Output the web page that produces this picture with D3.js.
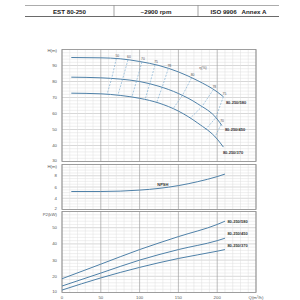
<!DOCTYPE html>
<html lang="en">
<head>
<meta charset="UTF-8">
<title>EST 80-250</title>
<script src="https://d3js.org/d3.v7.min.js"></script>
<style>
  body { margin: 0; background: #fff; }
  text { font-family: "Liberation Sans", Arial, sans-serif; }
</style>
</head>
<body>
<div id="my_dataviz"></div>
<script>

// header texts
var headerCells = ["EST 80-250", "~2900 rpm", "ISO 9906   Annex A"];

// tick labels
var qTicks = [0, 50, 100, 150, 200];
var hTicks = [30, 40, 50, 60, 70, 80, 90];
var npshTicks = [2, 4, 6, 8];
var p2Ticks = [10, 20, 30, 40, 50];

var models = ["80-250/580", "80-250/450", "80-250/370"];

// head curves, Q (m3/h) -> H (m)
var h580Q = [12, 50, 75, 100, 125, 150, 175, 200, 208];
var h580  = [95, 94.8, 94.2, 92.5, 90, 86, 80.5, 73.5, 70.5];
var h450Q = [12, 50, 75, 100, 125, 150, 175, 200, 206];
var h450  = [82.7, 82.3, 81.5, 80, 77, 72.5, 66, 56.5, 52.5];
var h370Q = [12, 50, 75, 100, 125, 150, 175, 200, 208];
var h370  = [72.7, 72.3, 71.3, 69.5, 66.5, 61.5, 54, 44, 39];

// efficiency lines: label and Q on each head curve (null = not crossing)
var effLabels = [50, 60, 70, 75, 78, 80, 78, 75, 70];
var eff580Q = [70, 85, 103, 120, 137, 167, 195, 208, null];
var eff450Q = [64, 78, 96, 113, 129, 155, 180, 198, 205];
var eff370Q = [58, 72, 90, 107, 122, 143, 165, 185, 197];

// NPSH
var npshQ = [12, 50, 100, 125, 150, 175, 200, 210];
var npsh  = [5.2, 5.2, 5.45, 5.75, 6.25, 6.95, 7.85, 8.3];

// power curves
var p2Q    = [0, 50, 100, 150, 200, 210];
var p2_580 = [18.5, 27.5, 36.5, 44.5, 52, 54];
var p2_450 = [14, 22, 30, 36.5, 42, 43.5];
var p2_370 = [11.5, 19, 25.5, 31, 35.5, 36.5];

var W = 300, H = 300;
var left = 62, right = 256;

var svg = d3.select("#my_dataviz")
  .append("svg")
    .attr("width", W)
    .attr("height", H);

// ---- header table ----
var hx = [25, 114, 198, 279];
var head = svg.append("g");
head.append("line").attr("x1", 25).attr("x2", 279).attr("y1", 5.5).attr("y2", 5.5)
  .attr("stroke", "#888").attr("stroke-width", 0.7);
head.append("line").attr("x1", 25).attr("x2", 279).attr("y1", 16.5).attr("y2", 16.5)
  .attr("stroke", "#444").attr("stroke-width", 0.8);
[114, 198].forEach(function(x) {
  head.append("line").attr("x1", x).attr("x2", x).attr("y1", 5.5).attr("y2", 16.5)
    .attr("stroke", "#666").attr("stroke-width", 0.6);
});
head.selectAll("text")
  .data(headerCells)
  .enter().append("text")
    .attr("x", function(d, i) { return (hx[i] + hx[i + 1]) / 2; })
    .attr("y", 13.6)
    .attr("text-anchor", "middle")
    .attr("font-size", 6.2)
    .attr("font-weight", "bold")
    .attr("fill", "#222")
    .attr("xml:space", "preserve")
    .text(function(d) { return d; });

// ---- scales ----
var x = d3.scaleLinear().domain([0, 250]).range([left, right]);
var yH = d3.scaleLinear().domain([30, 100]).range([161.5, 49.5]);
var yN = d3.scaleLinear().domain([2, 10]).range([209.5, 164.5]);
var yP = d3.scaleLinear().domain([10, 60]).range([292.5, 211.5]);

// grid for one panel
function panel(y, minorStep, majorStep) {
  var g = svg.append("g");
  var d0 = y.domain()[0], d1 = y.domain()[1];
  var hs = d3.range(d0, d1 + 0.001, minorStep);
  g.selectAll("line.h").data(hs).enter().append("line")
    .attr("x1", left).attr("x2", right)
    .attr("y1", function(d) { return y(d); })
    .attr("y2", function(d) { return y(d); })
    .attr("stroke", function(d) { return Math.abs(d % majorStep) < 0.001 ? "#b0b0b0" : "#dedede"; })
    .attr("stroke-width", 0.5);
  var vs = d3.range(0, 251, 10);
  g.selectAll("line.v").data(vs).enter().append("line")
    .attr("y1", y.range()[0]).attr("y2", y.range()[1])
    .attr("x1", function(d) { return x(d); })
    .attr("x2", function(d) { return x(d); })
    .attr("stroke", function(d) { return d % 50 == 0 ? "#a0a0a0" : "#dedede"; })
    .attr("stroke-width", function(d) { return d % 50 == 0 ? 0.7 : 0.5; });
  g.append("rect")
    .attr("x", left).attr("y", y.range()[1])
    .attr("width", right - left).attr("height", y.range()[0] - y.range()[1])
    .attr("fill", "none").attr("stroke", "#909090").attr("stroke-width", 0.8);
  return g;
}

panel(yH, 2, 10);
panel(yN, 0.5, 2);
panel(yP, 2, 10);

// left tick labels, the lowest one kept inside its panel
function yLabels(y, ticks, title, titleDy) {
  var bottom = y.range()[0];
  svg.append("g").selectAll("text").data(ticks).enter().append("text")
    .attr("x", 57)
    .attr("y", function(d) { return Math.min(y(d) + 1.5, bottom); })
    .attr("text-anchor", "end").attr("font-size", 4.3).attr("fill", "#555")
    .text(function(d) { return d; });
  svg.append("text")
    .attr("x", 57).attr("y", y.range()[1] + titleDy)
    .attr("text-anchor", "end").attr("font-size", 4.3).attr("fill", "#555")
    .text(title);
}
yLabels(yH, hTicks, "H(m)", 2);
yLabels(yN, npshTicks, "H(m)", 3);
yLabels(yP, p2Ticks, "P2(kW)", 4);

// Q axis labels
svg.append("g").selectAll("text").data(qTicks).enter().append("text")
  .attr("x", function(d) { return x(d); }).attr("y", 298.5)
  .attr("text-anchor", "middle").attr("font-size", 4.3).attr("fill", "#555")
  .text(function(d) { return d; });
svg.append("text").attr("x", 256).attr("y", 298.5)
  .attr("text-anchor", "middle").attr("font-size", 4.3).attr("fill", "#555")
  .text("Q(m³/h)");

// ---- curves ----
var curveColor = "#4f81a8";
function zip(qs, vs) { return qs.map(function(q, i) { return [q, vs[i]]; }); }
function drawCurve(pts, y) {
  svg.append("path")
    .datum(pts)
    .attr("fill", "none")
    .attr("stroke", curveColor)
    .attr("stroke-width", 1)
    .attr("d", d3.line()
      .x(function(d) { return x(d[0]); })
      .y(function(d) { return y(d[1]); })
      .curve(d3.curveMonotoneX));
}

var hCurves = [zip(h580Q, h580), zip(h450Q, h450), zip(h370Q, h370)];
hCurves.forEach(function(c) { drawCurve(c, yH); });

// head on a curve at a given Q (between the read points)
function headAt(pts, q) {
  for (var i = 1; i < pts.length; i++) {
    if (q <= pts[i][0]) {
      var t = (q - pts[i - 1][0]) / (pts[i][0] - pts[i - 1][0]);
      return pts[i - 1][1] + t * (pts[i][1] - pts[i - 1][1]);
    }
  }
  return pts[pts.length - 1][1];
}

// efficiency dashed lines
var effQ = [eff580Q, eff450Q, eff370Q];
effLabels.forEach(function(lab, k) {
  var pts = [];
  effQ.forEach(function(arr, c) {
    if (arr[k] != null) pts.push([arr[k], headAt(hCurves[c], arr[k])]);
  });
  svg.append("path")
    .datum(pts)
    .attr("fill", "none")
    .attr("stroke", "#6fa5cc")
    .attr("stroke-width", 0.6)
    .attr("stroke-dasharray", "2,1.3")
    .attr("d", d3.line()
      .x(function(d) { return x(d[0]); })
      .y(function(d) { return yH(d[1]); }));
  svg.append("text")
    .attr("x", x(pts[0][0]) + 1)
    .attr("y", yH(pts[0][1]) - 2)
    .attr("text-anchor", "middle")
    .attr("font-size", 3.4)
    .attr("fill", "#555")
    .text(lab);
});

svg.append("text").attr("x", 203).attr("y", 69).attr("font-size", 3.6)
  .attr("fill", "#555").attr("text-anchor", "middle").text("η(%)");

// model labels on head curves
var hLabelX = [236, 235, 233];
var hLabelY = [104, 131, 154];
models.forEach(function(m, i) {
  svg.append("text").attr("x", hLabelX[i]).attr("y", hLabelY[i])
    .attr("text-anchor", "middle").attr("font-size", 4)
    .attr("font-weight", "bold").attr("fill", "#333").text(m);
});

// NPSH
drawCurve(zip(npshQ, npsh), yN);
svg.append("text").attr("x", x(130)).attr("y", yN(6.2))
  .attr("text-anchor", "middle").attr("font-size", 4).attr("font-weight", "bold")
  .attr("fill", "#333").text("NPSH");

// power
drawCurve(zip(p2Q, p2_580), yP);
drawCurve(zip(p2Q, p2_450), yP);
drawCurve(zip(p2Q, p2_370), yP);
var pLabelY = [223, 235, 247];
models.forEach(function(m, i) {
  svg.append("text").attr("x", 237.5).attr("y", pLabelY[i])
    .attr("text-anchor", "middle").attr("font-size", 4)
    .attr("font-weight", "bold").attr("fill", "#333").text(m);
});

</script>
</body>
</html>
